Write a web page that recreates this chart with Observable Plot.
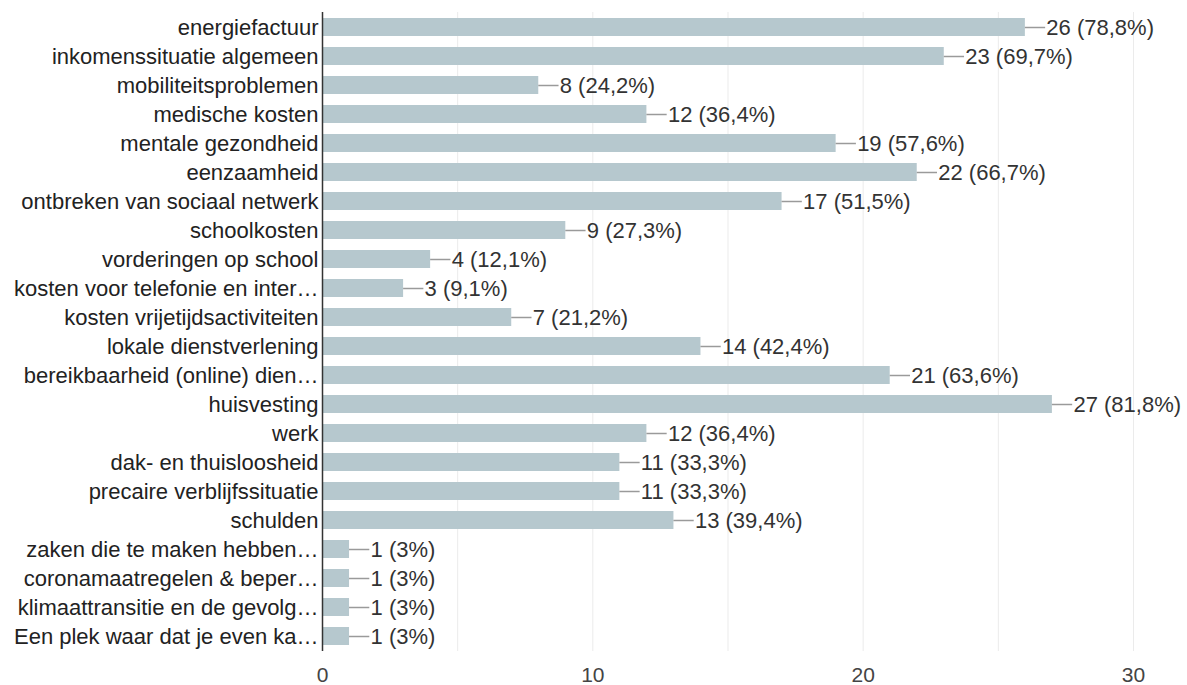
<!DOCTYPE html>
<html><head><meta charset="utf-8">
<script src="https://cdn.jsdelivr.net/npm/d3@7"></script>
<script src="https://cdn.jsdelivr.net/npm/@observablehq/plot@0.6"></script>
<style>
body{margin:0;background:#fff;font-family:"Liberation Sans",Arial,sans-serif;}
</style></head><body><div id="chart"></div>
<script>
const categories = [
  "energiefactuur","inkomenssituatie algemeen","mobiliteitsproblemen","medische kosten",
  "mentale gezondheid","eenzaamheid","ontbreken van sociaal netwerk","schoolkosten",
  "vorderingen op school","kosten voor telefonie en inter…","kosten vrijetijdsactiviteiten",
  "lokale dienstverlening","bereikbaarheid (online) dien…","huisvesting","werk",
  "dak- en thuisloosheid","precaire verblijfssituatie","schulden",
  "zaken die te maken hebben…","coronamaatregelen & beper…","klimaattransitie en de gevolg…",
  "Een plek waar dat je even ka…"
];
const counts = [26,23,8,12,19,22,17,9,4,3,7,14,21,27,12,11,11,13,1,1,1,1];
const percents = ["78,8%","69,7%","24,2%","36,4%","57,6%","66,7%","51,5%","27,3%","12,1%","9,1%","21,2%","42,4%","63,6%","81,8%","36,4%","33,3%","33,3%","39,4%","3%","3%","3%","3%"];
const xTicks = [0,10,20,30];
const gridTicks = [5,10,15,20,25,30];

const data = categories.map((c,i)=>({cat:c, value:counts[i], label:`${counts[i]} (${percents[i]})`}));

const chart = Plot.plot({
  width: 1187, height: 685,
  marginLeft: 322, marginRight: 54, marginTop: 12, marginBottom: 34,
  style: {fontFamily: '"Liberation Sans", Arial, sans-serif', fontSize: "22px", color: "#222", background: "#fff"},
  x: {domain:[0,30], label: null},
  y: {domain: categories, paddingInner: 0.38, paddingOuter: 0.19, label: null},
  marks: [
    Plot.ruleX(gridTicks, {stroke:"#ebebeb", strokeWidth:1}),
    Plot.ruleY([0], {frameAnchor:"top", stroke:"#ebebeb"}),
    Plot.ruleY([0], {frameAnchor:"bottom", stroke:"#ebebeb"}),
    Plot.barX(data, {x:"value", y:"cat", fill:"#b6c8ce"}),
    Plot.ruleY(data, {y:"cat", x1:"value", x2: d=>d.value+0.75, stroke:"#9a9a9a", strokeWidth:1.5}),
    Plot.text(data, {x:"value", y:"cat", text:"label", dx:21, textAnchor:"start", fill:"#333", fontSize:22}),
    Plot.ruleX([0], {stroke:"#333", strokeWidth:1.5}),
    Plot.axisY({tickSize:0, tickPadding:4, fontSize:22, fill:"#222"}),
    Plot.axisX({ticks:xTicks, tickSize:0, tickPadding:16, fontSize:21, fill:"#444", label:null})
  ]
});
document.getElementById("chart").appendChild(chart);
</script></body></html>
